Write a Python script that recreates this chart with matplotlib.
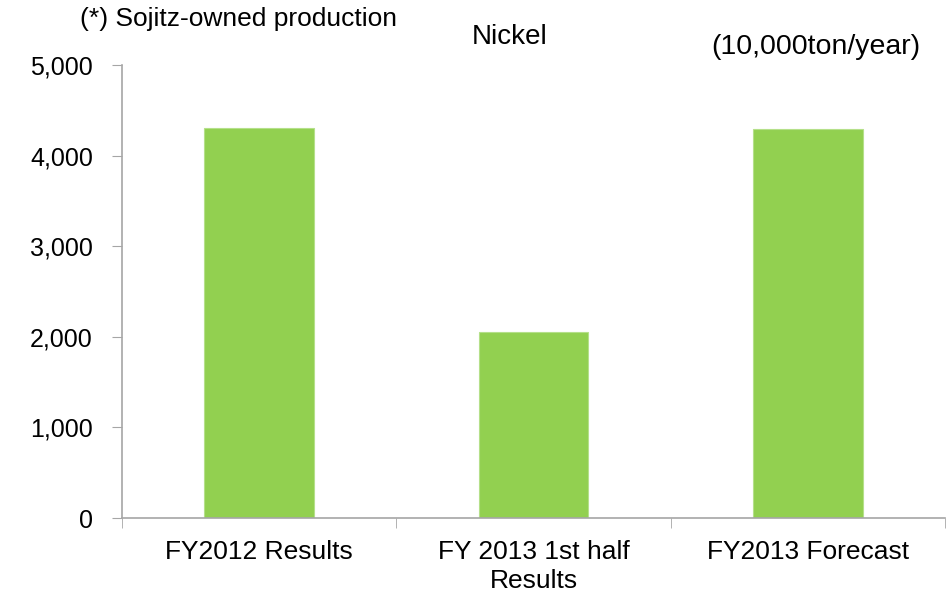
import matplotlib.pyplot as plt
from matplotlib.ticker import FuncFormatter
import numpy as np

plt.rcParams['font.family'] = ['Liberation Sans', 'DejaVu Sans']
plt.rcParams['font.size'] = 19

categories = ['FY2012 Results', 'FY 2013 1st half\nResults', 'FY2013 Forecast']
values = [4310, 2050, 4290]

axis_grey = '#a6a6a6'

fig = plt.figure(figsize=(9.51, 5.92), dpi=100)
ax = fig.add_axes([0.1283, 0.125, 0.8654, 0.7652])

x = np.arange(len(categories))
ax.bar(x, values, width=0.4, color='#92d050', edgecolor='#b5e08a', linewidth=0.8)

ax.set_xlim(-0.5, len(categories) - 0.5)
ax.set_ylim(0, 5000)
ax.set_yticks(np.arange(0, 5001, 1000))
ax.yaxis.set_major_formatter(FuncFormatter(lambda v, p: f'{int(v):,}'))

ax.set_xticks(x)
ax.set_xticklabels(categories, linespacing=1.25)
ax.tick_params(axis='x', which='major', length=0, pad=16)
ax.set_xticks(np.arange(-0.5, len(categories)), minor=True)
ax.tick_params(axis='x', which='minor', length=7, color=axis_grey, direction='out')
ax.tick_params(axis='y', length=7, color=axis_grey, direction='out', pad=14, labelsize=18)

for side in ['top', 'right']:
    ax.spines[side].set_visible(False)
for side in ['left', 'bottom']:
    ax.spines[side].set_color(axis_grey)
    ax.spines[side].set_linewidth(1.2)

fig.text(0.084, 0.968, '(*) Sojitz-owned production', fontsize=19, va='center')
fig.text(0.536, 0.937, 'Nickel', fontsize=20, ha='center', va='center')
fig.text(0.968, 0.92, '(10,000ton/year)', fontsize=20.5, ha='right', va='center')

plt.savefig('out.png', dpi=100)
